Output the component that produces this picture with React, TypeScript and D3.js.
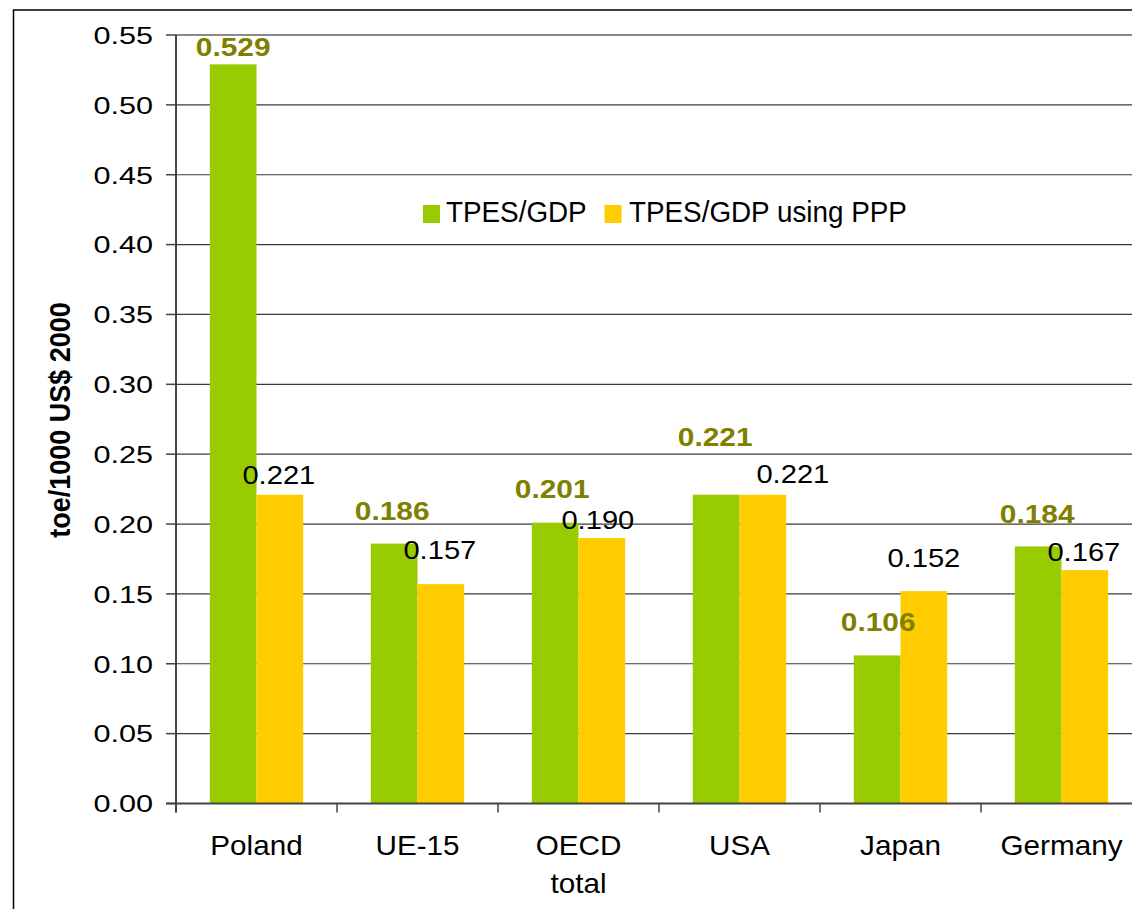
import React from "react";
import * as d3 from "d3";

const categories = ["Poland", "UE-15", "OECD\ntotal", "USA", "Japan", "Germany"];
const seriesNames = ["TPES/GDP", "TPES/GDP using PPP"];
const tpesGdp = [0.529, 0.186, 0.201, 0.221, 0.106, 0.184];
const tpesGdpPpp = [0.221, 0.157, 0.19, 0.221, 0.152, 0.167];
const yTicks = [0, 0.05, 0.1, 0.15, 0.2, 0.25, 0.3, 0.35, 0.4, 0.45, 0.5, 0.55];
const yTitle = "toe/1000 US$ 2000";

// label placement tweaks (px), as placed in the original chart
const greenLabelDy = [-8, -24, -25, -49, -24, -23];
const greenLabelDx = [0, -2, -3, -1, 1, -1];
const yellowLabelDy = [-11, -25, -9, -12, -24, -9];
const yellowLabelDx = [-1, -1, -4, 30, 0, -1];

const GREEN = "#99CC00";
const YELLOW = "#FFCC00";
const OLIVE = "#808000";
const FONT = "'Liberation Sans', Arial, sans-serif";

function SText(props: {
  x: number; y: number; sx: number; size: number; anchor?: string; weight?: string;
  fill?: string; dy?: string; children: React.ReactNode;
}) {
  const { x, y, sx, size, anchor = "start", weight = "normal", fill = "#000", dy, children } = props;
  return (
    <g transform={`translate(${x},${y}) scale(${sx},1)`}>
      <text x={0} y={0} dy={dy} textAnchor={anchor} fontSize={size} fontWeight={weight} fill={fill}>
        {children}
      </text>
    </g>
  );
}

export default function App() {
  const W = 1132, H = 909;
  const left = 176, right = 1142, top = 35, bottom = 803.5;

  const x0 = d3.scaleBand<string>().domain(categories).range([left, right]).padding(0);
  const x1 = d3.scaleBand<string>().domain(["g", "y"]).range([0, x0.bandwidth()]).paddingInner(0).paddingOuter(0.724);
  const y = d3.scaleLinear().domain([0, 0.55]).range([bottom, top]);
  const fmt = d3.format(".3f");
  const tickFmt = d3.format(".2f");

  return (
    <svg width={W} height={H} style={{ position: "absolute", left: 0, top: 0, background: "#fff" }} fontFamily={FONT}>
      <rect x={0} y={0} width={W} height={H} fill="#fff" />
      {/* outer frame */}
      <rect x={13.5} y={10} width={W + 50} height={H + 50} fill="none" stroke="#000" strokeWidth={1.5} />

      {/* gridlines */}
      {yTicks.slice(1, -1).map((t) => (
        <line key={t} x1={left} x2={right} y1={y(t)} y2={y(t)} stroke="#3a3a3a" strokeWidth={1.2} />
      ))}
      <line x1={left} x2={right} y1={y(0.55)} y2={y(0.55)} stroke="#8a8a8a" strokeWidth={2} />

      {/* bars */}
      {categories.map((c, i) => (
        <g key={c} transform={`translate(${x0(c)},0)`}>
          <rect x={x1("g")} y={y(tpesGdp[i])} width={x1.bandwidth()} height={bottom - y(tpesGdp[i])} fill={GREEN} />
          <rect x={x1("y")} y={y(tpesGdpPpp[i])} width={x1.bandwidth()} height={bottom - y(tpesGdpPpp[i])} fill={YELLOW} />
        </g>
      ))}

      {/* axes */}
      <line x1={left} x2={left} y1={top} y2={bottom + 9} stroke="#333" strokeWidth={1.8} />
      <line x1={left - 10} x2={right} y1={bottom} y2={bottom} stroke="#444" strokeWidth={2} />
      {yTicks.map((t) => (
        <g key={t}>
          <line x1={left - 10} x2={left} y1={y(t)} y2={y(t)} stroke="#444" strokeWidth={1.5} />
          <SText x={153} y={y(t)} dy="0.358em" anchor="end" size={24.5} sx={1.25}>
            {tickFmt(t)}
          </SText>
        </g>
      ))}
      {categories.map((c, i) => (
        <line key={"t" + i} x1={x0(c)!} x2={x0(c)!} y1={bottom} y2={bottom + 9} stroke="#444" strokeWidth={1.5} />
      ))}
      {categories.map((c) => (
        <g key={"l" + c}>
          {c.split("\n").map((line, j) => (
            <SText key={j} x={x0(c)! + x0.bandwidth() / 2} y={855 + j * 38} anchor="middle" size={28} sx={1.06}>
              {line}
            </SText>
          ))}
        </g>
      ))}

      {/* y title */}
      <g transform="translate(70,420) scale(1.1,1) rotate(-90)">
        <text x={0} y={0} textAnchor="middle" fontSize={27} fontWeight="bold" fill="#000">
          {yTitle}
        </text>
      </g>

      {/* data labels */}
      {categories.map((c, i) => (
        <g key={"d" + c}>
          <SText x={x0(c)! + x1("g")! + x1.bandwidth() / 2 + greenLabelDx[i]} y={y(tpesGdp[i]) + greenLabelDy[i]} anchor="middle" size={25.5} sx={1.17} weight="bold" fill={OLIVE}>
            {fmt(tpesGdp[i])}
          </SText>
          <SText x={x0(c)! + x1("y")! + x1.bandwidth() / 2 + yellowLabelDx[i]} y={y(tpesGdpPpp[i]) + yellowLabelDy[i]} anchor="middle" size={26.5} sx={1.1}>
            {fmt(tpesGdpPpp[i])}
          </SText>
        </g>
      ))}

      {/* legend */}
      <g>
        <rect x={423} y={205} width={17} height={18} fill={GREEN} />
        <SText x={446} y={222} size={29} sx={0.96}>{seriesNames[0]}</SText>
        <rect x={604.5} y={205} width={17} height={18} fill={YELLOW} />
        <SText x={629} y={222} size={29} sx={0.96}>{seriesNames[1]}</SText>
      </g>
    </svg>
  );
}
